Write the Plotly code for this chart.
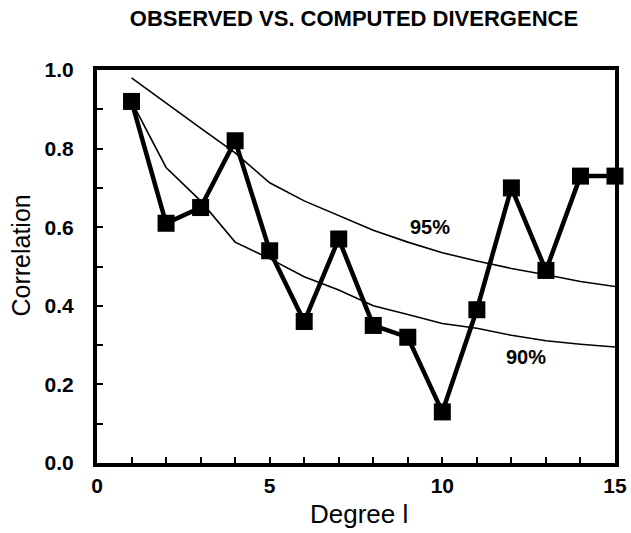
import plotly.graph_objects as go

degree = list(range(1, 16))
observed = [0.92, 0.61, 0.65, 0.82, 0.54, 0.36, 0.57, 0.35, 0.32, 0.13, 0.39, 0.70, 0.49, 0.73, 0.73]
conf95 = [0.98, 0.915, 0.852, 0.789, 0.713, 0.667, 0.63, 0.592, 0.562, 0.535, 0.514, 0.495, 0.479, 0.462, 0.449]
conf90 = [0.92, 0.752, 0.667, 0.562, 0.52, 0.474, 0.44, 0.40, 0.378, 0.355, 0.343, 0.325, 0.311, 0.302, 0.295]
x_tick_pos = list(range(0, 16))
x_tick_lab = ["0", "", "", "", "", "5", "", "", "", "", "10", "", "", "", "", "15"]
y_tick_pos = [i / 10 for i in range(11)]
y_tick_lab = ["0.0", "", "0.2", "", "0.4", "", "0.6", "", "0.8", "", "1.0"]
x_range = [0, 15]
y_range = [0, 1]
labels = [("95%", 9.65, 0.60), ("90%", 12.43, 0.27)]

font = "Liberation Sans, Arial, Helvetica, sans-serif"

fig = go.Figure()
fig.add_trace(go.Scatter(x=degree, y=conf95, mode="lines",
                         line=dict(color="black", width=1.6), showlegend=False, hoverinfo="skip"))
fig.add_trace(go.Scatter(x=degree, y=conf90, mode="lines",
                         line=dict(color="black", width=1.6), showlegend=False, hoverinfo="skip"))
fig.add_trace(go.Scatter(x=degree, y=observed, mode="lines+markers",
                         line=dict(color="black", width=4.5),
                         marker=dict(symbol="square", size=17, color="black"),
                         cliponaxis=False, showlegend=False))

for txt, xx, yy in labels:
    fig.add_annotation(x=xx, y=yy, text="<b>%s</b>" % txt, showarrow=False,
                       font=dict(family=font, size=20, color="black"))

fig.add_annotation(xref="paper", yref="paper", x=-0.1458, y=0.529, text="Correlation",
                   textangle=-90, showarrow=False, xanchor="center", yanchor="middle",
                   font=dict(family=font, size=25, color="black"))
fig.add_annotation(xref="paper", yref="paper", x=0.506, y=-0.1298, text="Degree l",
                   showarrow=False, xanchor="center", yanchor="middle",
                   font=dict(family=font, size=26, color="black"))

axis_main = dict(showgrid=False, zeroline=False, showline=True, linecolor="black", linewidth=4,
                 automargin=False, mirror=True, ticks="inside", tickcolor="black",
                 tickwidth=1.5, ticklen=6,
                 tickfont=dict(family=font, size=21, color="black", weight="bold"))

fig.update_layout(
    xaxis=dict(range=x_range, tickvals=x_tick_pos, ticktext=x_tick_lab,
               ticklabelstandoff=1, **axis_main),
    yaxis=dict(range=y_range, tickvals=y_tick_pos, ticktext=y_tick_lab,
               ticklabelstandoff=15, **axis_main),
    width=631, height=533,
    margin=dict(l=97, r=16, t=70, b=70),
    plot_bgcolor="white", paper_bgcolor="white",
    title=dict(text="<b>OBSERVED VS. COMPUTED DIVERGENCE</b>", x=0.561, xanchor="center",
               xref="container", y=0.9657, yanchor="middle",
               font=dict(family=font, size=22, color="black")),
)

fig.write_html("out.html", config={"displayModeBar": False},
               post_script="document.body.style.margin='0';document.body.style.overflow='hidden';")
